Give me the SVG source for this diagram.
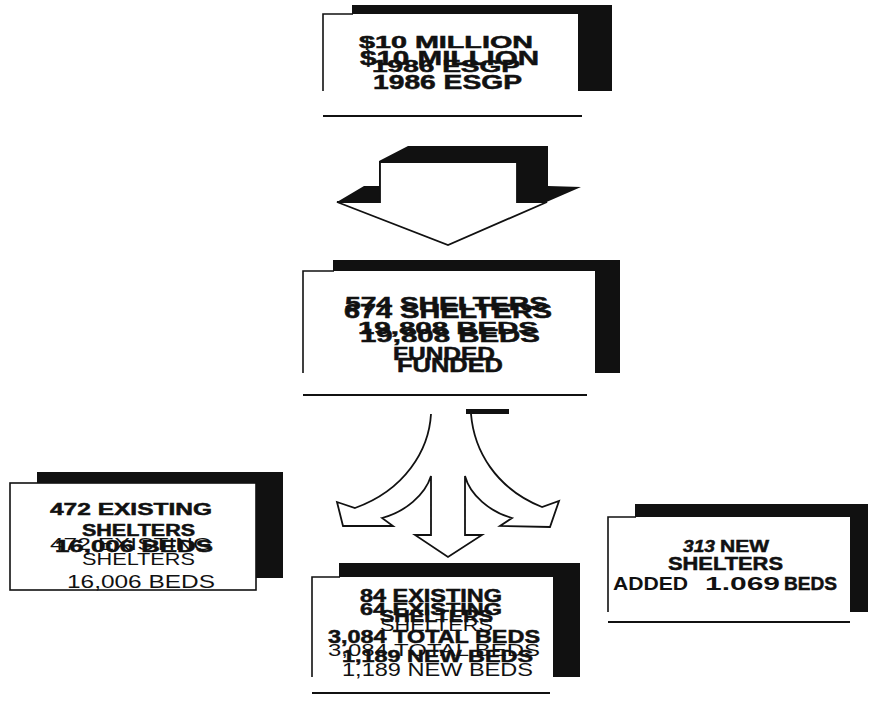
<svg xmlns="http://www.w3.org/2000/svg" width="872" height="702" viewBox="0 0 872 702">
<style>
.bg{fill:#fff}
.shadow{fill:#111}
.face{fill:#fff}
.edge{fill:none;stroke:#111;stroke-width:1.6}
.rule{stroke:#111;stroke-width:2.2}
.b{font-family:"Liberation Sans",Arial,sans-serif;font-weight:bold;fill:#111;stroke:#111;stroke-width:0.5}
.m{font-family:"Liberation Sans",Arial,sans-serif;font-weight:bold;fill:#111}
.r{font-family:"Liberation Sans",Arial,sans-serif;font-weight:normal;fill:#111}
.conn{fill:#fff;stroke:#111;stroke-width:1.8;stroke-linejoin:miter}
</style>
<rect class="bg" x="0" y="0" width="872" height="702"/>

<g id="node-funding">
<rect class="shadow" x="352" y="5" width="260" height="86"/>
<rect class="face" x="323" y="14" width="255" height="77"/>
<polyline class="edge" points="323,91 323,14 353,14"/>
<text class="b" x="359" y="48" font-size="17" textLength="174" lengthAdjust="spacingAndGlyphs">$10 MILLION</text>
<text class="b" x="360" y="65" font-size="20" textLength="179" lengthAdjust="spacingAndGlyphs">$10 MILLION</text>
<text class="b" x="372" y="72" font-size="17" textLength="148" lengthAdjust="spacingAndGlyphs">1986 ESGP</text>
<text class="b" x="373" y="89" font-size="20" textLength="149" lengthAdjust="spacingAndGlyphs">1986 ESGP</text>
<line class="rule" x1="323" y1="116" x2="582" y2="116"/>
</g>

<g id="node-funded">
<rect class="shadow" x="333" y="260" width="287" height="113"/>
<rect class="face" x="303" y="271" width="292" height="102"/>
<polyline class="edge" points="303,373 303,271 334,271"/>
<text class="b" x="345" y="310" font-size="18" textLength="203" lengthAdjust="spacingAndGlyphs">574 SHELTERS</text>
<text class="b" x="344" y="318" font-size="20" textLength="208" lengthAdjust="spacingAndGlyphs">674 SHELTERS</text>
<text class="b" x="358" y="334" font-size="17" textLength="180" lengthAdjust="spacingAndGlyphs">19,808 BEDS</text>
<text class="b" x="360" y="342" font-size="19" textLength="180" lengthAdjust="spacingAndGlyphs">19,808 BEDS</text>
<text class="b" x="393" y="360" font-size="18" textLength="102" lengthAdjust="spacingAndGlyphs">FUNDED</text>
<text class="b" x="397" y="372" font-size="20" textLength="106" lengthAdjust="spacingAndGlyphs">FUNDED</text>
<line class="rule" x1="303" y1="395" x2="587" y2="395"/>
</g>

<g id="node-existing-left">
<rect class="shadow" x="37" y="472" width="246" height="106"/>
<rect class="face" x="10" y="483" width="246" height="107"/>
<rect class="edge" x="10" y="483" width="246" height="107"/>
<text class="b" x="50" y="515" font-size="17" textLength="162" lengthAdjust="spacingAndGlyphs">472 EXISTING</text>
<text class="b" x="82" y="536" font-size="16" textLength="113" lengthAdjust="spacingAndGlyphs">SHELTERS</text>
<text class="r" x="50" y="550" font-size="17" textLength="162" lengthAdjust="spacingAndGlyphs">472 EXISTING</text>
<text class="b" x="55" y="552" font-size="16" textLength="158" lengthAdjust="spacingAndGlyphs">16,006 BEDS</text>
<text class="r" x="82" y="565" font-size="17" textLength="113" lengthAdjust="spacingAndGlyphs">SHELTERS</text>
<text class="r" x="67" y="588" font-size="19" textLength="148" lengthAdjust="spacingAndGlyphs">16,006 BEDS</text>
</g>

<g id="node-existing-center">
<rect class="shadow" x="339" y="563" width="241" height="114"/>
<rect class="face" x="312" y="577" width="241" height="100"/>
<polyline class="edge" points="312,677 312,577 340,577"/>
<text class="b" x="360" y="602" font-size="18" textLength="142" lengthAdjust="spacingAndGlyphs">84 EXISTING</text>
<text class="b" x="360" y="615" font-size="17" textLength="142" lengthAdjust="spacingAndGlyphs">64 EXISTING</text>
<text class="b" x="380" y="622" font-size="16" textLength="113" lengthAdjust="spacingAndGlyphs">SHELTERS</text>
<text class="r" x="380" y="631" font-size="16" textLength="113" lengthAdjust="spacingAndGlyphs">SHELTERS</text>
<text class="b" x="328" y="643" font-size="18" textLength="212" lengthAdjust="spacingAndGlyphs">3,084 TOTAL BEDS</text>
<text class="r" x="328" y="656" font-size="17" textLength="212" lengthAdjust="spacingAndGlyphs">3,084 TOTAL BEDS</text>
<text class="b" x="342" y="662" font-size="16" textLength="191" lengthAdjust="spacingAndGlyphs">1,189 NEW BEDS</text>
<text class="r" x="342" y="676" font-size="19" textLength="191" lengthAdjust="spacingAndGlyphs">1,189 NEW BEDS</text>
<line class="rule" x1="312" y1="693" x2="550" y2="693" stroke-width="1.6"/>
</g>

<g id="node-new">
<rect class="shadow" x="635" y="504" width="233" height="108"/>
<rect class="face" x="608" y="517" width="242" height="95"/>
<polyline class="edge" points="608,612 608,517 636,517"/>
<text class="b" x="683" y="552" font-size="17" font-style="italic" textLength="32" lengthAdjust="spacingAndGlyphs">313</text>
<text class="b" x="720" y="552" font-size="17" textLength="49" lengthAdjust="spacingAndGlyphs">NEW</text>
<text class="b" x="668" y="570" font-size="18" textLength="115" lengthAdjust="spacingAndGlyphs">SHELTERS</text>
<text class="m" x="613" y="590" font-size="18" textLength="75" lengthAdjust="spacingAndGlyphs">ADDED</text>
<text class="m" x="705" y="590" font-size="18" textLength="75" lengthAdjust="spacingAndGlyphs">1.069</text>
<text class="b" x="784" y="590" font-size="18" textLength="53" lengthAdjust="spacingAndGlyphs" stroke-width="0.9">BEDS</text>
<line class="rule" x1="608" y1="622" x2="850" y2="622" stroke-width="1.6"/>
</g>

<g id="connectors">
<polygon class="shadow" points="337,202 364,186 379,186 379,161 408,146 548,146 548,186 581,187 448,245"/>
<polygon class="conn" points="380,162 517,162 517,202 547,202 448,245 337,202 380,202"/>
<rect class="shadow" x="466" y="409" width="43" height="5"/>
<path class="conn" d="M431,414 C429,450 405,490 355,508 L337,502 L343,526 L393,526 L382,518 C405,512 425,495 431,476 L431,535 L415,535 L448,557 L482,535 L465,535 L465,476 C470,495 490,512 512,518 L500,526 L550,527 L559,501 L542,507 C495,488 474,450 471,414"/>
</g>
</svg>
